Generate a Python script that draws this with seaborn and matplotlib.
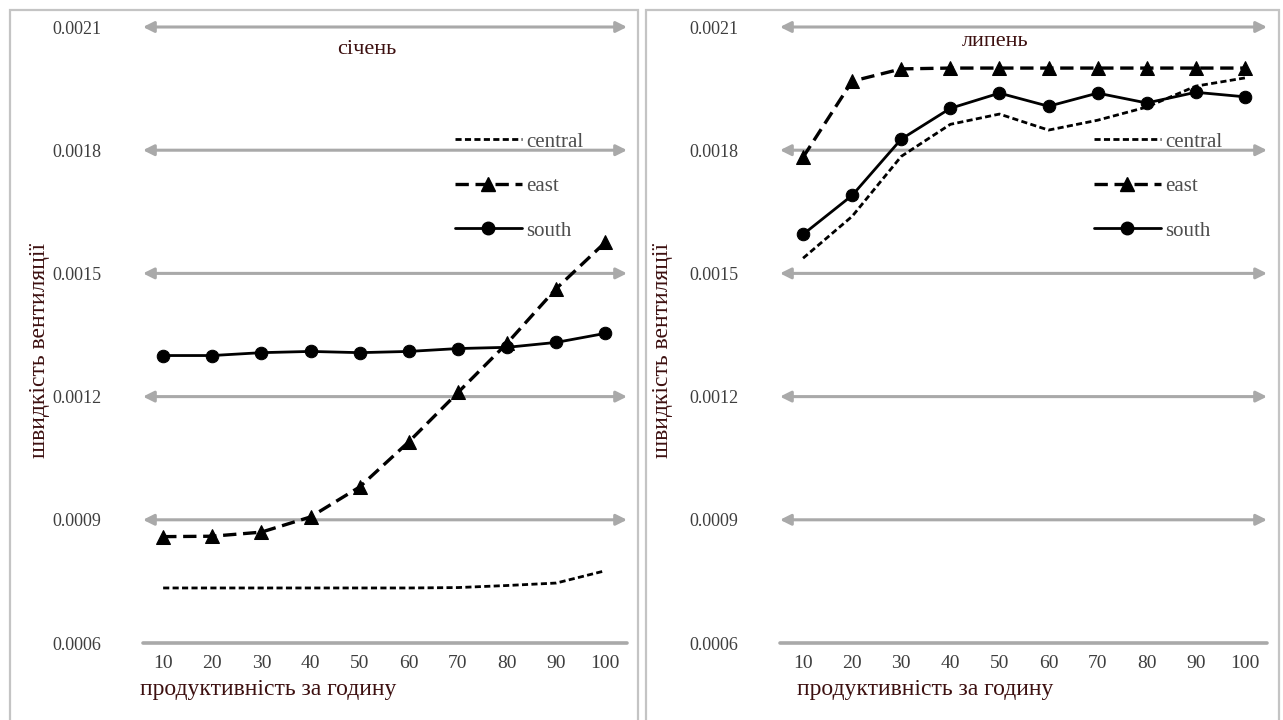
import numpy as np
import pandas as pd
import matplotlib
matplotlib.use("Agg")
import matplotlib.pyplot as plt
from matplotlib.patches import Rectangle
from matplotlib.lines import Line2D
import seaborn as sns

# --- data -------------------------------------------------------------
productivity = [10, 20, 30, 40, 50, 60, 70, 80, 90, 100]

jan_central = [0.000734, 0.000734, 0.000734, 0.000734, 0.000734, 0.000734, 0.000735, 0.000740, 0.000746, 0.000776]
jan_east = [0.000859, 0.000860, 0.000870, 0.000907, 0.000980, 0.001090, 0.001210, 0.001330, 0.001463, 0.001576]
jan_south = [0.001300, 0.001300, 0.001307, 0.001310, 0.001307, 0.001310, 0.001317, 0.001320, 0.001332, 0.001354]

jul_central = [0.001537, 0.001639, 0.001785, 0.001863, 0.001888, 0.001849, 0.001873, 0.001905, 0.001956, 0.001976]
jul_east = [0.001783, 0.001968, 0.001998, 0.002000, 0.002000, 0.002000, 0.002000, 0.002000, 0.002000, 0.002000]
jul_south = [0.001595, 0.001690, 0.001827, 0.001902, 0.001939, 0.001907, 0.001939, 0.001915, 0.001941, 0.001930]

y_ticks = [0.0006, 0.0009, 0.0012, 0.0015, 0.0018, 0.0021]
y_tick_labels = ["0.0006", "0.0009", "0.0012", "0.0015", "0.0018", "0.0021"]
series_names = ["central", "east", "south"]
month_titles = ["січень", "липень"]
x_label = "продуктивність за годину"
y_label = "швидкість вентиляції"

# --- style ------------------------------------------------------------
sns.set_theme(style="white")
plt.rcParams["font.family"] = ["Liberation Serif", "DejaVu Serif"]

W, H = 1283, 720
fig = plt.figure(figsize=(W / 100, H / 100), dpi=100)
fig.patch.set_facecolor("white")

label_color = "#3d1010"
tick_color = "#3e3e3e"
grid_color = "#a9a9a9"

series_style = {
    "central": dict(linestyle=(0, (2.2, 1.2)), marker=None, linewidth=2.0, markersize=0),
    "east": dict(linestyle=(0, (4, 2)), marker="^", linewidth=2.4, markersize=10),
    "south": dict(linestyle="-", marker="o", linewidth=2.0, markersize=9),
}


def px_axes(left, right, top, bottom):
    return [left / W, (H - bottom) / H, (right - left) / W, (bottom - top) / H]


panels = [
    dict(rect=px_axes(143, 627, 27, 643), xlim=(5.9, 104.4),
         data={"central": jan_central, "east": jan_east, "south": jan_south},
         frame=(10, 638), title_xy=(367, 50), xlabel_xy=(268, 690), ylabel_xy=(40, 350),
         legend_anchor=(455, 132)),
    dict(rect=px_axes(780, 1267, 27, 643), xlim=(5.3, 104.5),
         data={"central": jul_central, "east": jul_east, "south": jul_south},
         frame=(646, 1279), title_xy=(995, 42), xlabel_xy=(925, 690), ylabel_xy=(663, 350),
         legend_anchor=(1094, 132)),
]

for i, p in enumerate(panels):
    # panel frame
    x0, x1 = p["frame"]
    fig.patches.append(Rectangle((x0 / W, -0.05), (x1 - x0) / W, (H - 10) / H + 0.05,
                                 transform=fig.transFigure, fill=False,
                                 edgecolor="#c4c4c4", linewidth=1.6, zorder=0))

    ax = fig.add_axes(p["rect"])
    ax.set_facecolor("none")
    ax.set_xlim(*p["xlim"])
    ax.set_ylim(0.0006, 0.0021)
    for s in ax.spines.values():
        s.set_visible(False)

    # horizontal gridlines with arrow heads
    for yv in y_ticks[1:]:
        ax.annotate("", xy=(1, yv), xytext=(0, yv),
                    xycoords=("axes fraction", "data"), textcoords=("axes fraction", "data"),
                    arrowprops=dict(arrowstyle="<|-|>", color=grid_color, lw=2.2,
                                    mutation_scale=16, shrinkA=0, shrinkB=0),
                    annotation_clip=False, zorder=1)
    ax.axhline(0.0006, color=grid_color, lw=2.6, zorder=1, clip_on=False)

    # series
    for name in series_names:
        st = series_style[name]
        df = pd.DataFrame({"x": productivity, "y": p["data"][name]})
        sns.lineplot(data=df, x="x", y="y", ax=ax, color="black",
                     linestyle=st["linestyle"], marker=st["marker"],
                     markersize=st["markersize"], linewidth=st["linewidth"],
                     markeredgecolor="black", zorder=3, clip_on=False)

    ax.set_xticks(productivity)
    ax.set_xticklabels([str(v) for v in productivity], fontsize=14, color=tick_color)
    ax.set_yticks(y_ticks)
    ax.set_yticklabels(y_tick_labels, fontsize=13, color=tick_color)
    ax.tick_params(axis="y", length=0, pad=30)
    ax.tick_params(axis="x", length=0, pad=9)
    ax.set_xlabel("")
    ax.set_ylabel("")

    # title and axis labels
    tx, ty = p["title_xy"]
    fig.text(tx / W, 1 - ty / H, month_titles[i], ha="center", va="center",
             fontsize=16, color=label_color)
    lx, ly = p["xlabel_xy"]
    fig.text(lx / W, 1 - ly / H, x_label, ha="center", va="center",
             fontsize=17, color=label_color)
    yx, yy = p["ylabel_xy"]
    fig.text(yx / W, 1 - yy / H, y_label, ha="center", va="center", rotation=90,
             fontsize=17, color=label_color)

    # legend
    handles = [Line2D([], [], color="black", linestyle=series_style[n]["linestyle"],
                      marker=series_style[n]["marker"], markersize=series_style[n]["markersize"],
                      linewidth=series_style[n]["linewidth"]) for n in series_names]
    lx0, ly0 = p["legend_anchor"]
    leg = ax.legend(handles, series_names, loc="upper left",
                    bbox_to_anchor=(lx0 / W, 1 - ly0 / H), bbox_transform=fig.transFigure,
                    frameon=False, fontsize=15, handlelength=3.2, handletextpad=0.2,
                    labelspacing=1.2, borderaxespad=0, borderpad=0)
    for t in leg.get_texts():
        t.set_color("#4d4d4d")

fig.savefig("out.png", dpi=100, facecolor="white")
